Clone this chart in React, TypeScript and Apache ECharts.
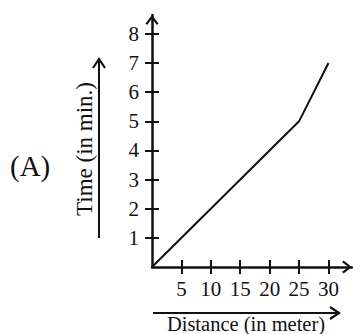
import React, { useEffect, useRef } from "react";
import * as echarts from "echarts";

const distance = [0, 25, 30];
const time = [0, 5, 7];
const xTickValues = [5, 10, 15, 20, 25, 30];
const yTickValues = [1, 2, 3, 4, 5, 6, 7, 8];
const xAxisName = "Distance (in meter)";
const yAxisName = "Time (in min.)";
const panelLabel = "(A)";

const FONT = "'Liberation Serif', 'Times New Roman', serif";
const CHEVRON = "path://M7 0 L14 9 L12.2 10.6 L7 3.6 L1.8 10.6 L0 9 Z";

export default function App() {
  const ref = useRef<HTMLDivElement>(null);
  useEffect(() => {
    if (!ref.current) return;
    const chart = echarts.init(ref.current, null, { renderer: "svg" });
    const axisCommon = (isX: boolean, inside: boolean, main: boolean) => ({
      type: "value" as const,
      min: 0,
      max: isX ? 34 : 8.65,
      position: isX ? "bottom" : "left",
      splitLine: { show: false },
      axisLine: main
        ? {
            show: true,
            onZero: false,
            symbol: ["none", CHEVRON],
            symbolSize: [13, 10],
            symbolOffset: [0, -5],
            lineStyle: { color: "#111", width: 2.5 },
          }
        : { show: false },
      axisTick: {
        show: true,
        inside,
        length: 7,
        customValues: isX ? xTickValues : yTickValues,
        lineStyle: { color: "#111", width: 2 },
      },
      axisLabel: main
        ? {
            show: true,
            customValues: isX ? xTickValues : yTickValues,
            margin: isX ? 11 : 13,
            fontSize: 21,
            fontFamily: FONT,
            color: "#111",
          }
        : { show: false },
    });
    chart.setOption({
      animation: false,
      backgroundColor: "#fff",
      grid: { left: 152, right: 1, top: 15, bottom: 67, containLabel: false },
      xAxis: [axisCommon(true, false, true), axisCommon(true, true, false)],
      yAxis: [axisCommon(false, false, true), axisCommon(false, true, false)],
      series: [
        {
          type: "line",
          xAxisIndex: 0,
          yAxisIndex: 0,
          data: distance.map((d, i) => [d, time[i]]),
          symbol: "none",
          lineStyle: { color: "#111", width: 2 },
        },
      ],
      graphic: [
        {
          type: "text",
          x: 10,
          y: 166,
          style: {
            text: panelLabel,
            font: `29px ${FONT}`,
            fill: "#111",
            verticalAlign: "middle",
            align: "left",
          },
        },
        {
          type: "text",
          x: 84,
          y: 149,
          rotation: Math.PI / 2,
          style: {
            text: yAxisName,
            font: `23px ${FONT}`,
            fill: "#111",
            verticalAlign: "middle",
            align: "center",
          },
        },
        {
          type: "line",
          shape: { x1: 99, y1: 238, x2: 99, y2: 60 },
          style: { stroke: "#111", lineWidth: 2 },
        },
        {
          type: "polyline",
          shape: { points: [[93, 68], [99, 59], [105, 68]] },
          style: { stroke: "#111", lineWidth: 2.2, fill: "none" },
        },
        {
          type: "line",
          shape: { x1: 153, y1: 313, x2: 338, y2: 313 },
          style: { stroke: "#111", lineWidth: 2 },
        },
        {
          type: "polyline",
          shape: { points: [[330, 307], [339, 313], [330, 319]] },
          style: { stroke: "#111", lineWidth: 2.2, fill: "none" },
        },
        {
          type: "text",
          x: 246,
          y: 323.5,
          style: {
            text: xAxisName,
            font: `20.5px ${FONT}`,
            fill: "#111",
            verticalAlign: "middle",
            align: "center",
          },
        },
      ],
    });
    return () => chart.dispose();
  }, []);
  return (
    <div
      ref={ref}
      style={{ position: "absolute", left: 0, top: 0, width: 353, height: 334 }}
    />
  );
}
